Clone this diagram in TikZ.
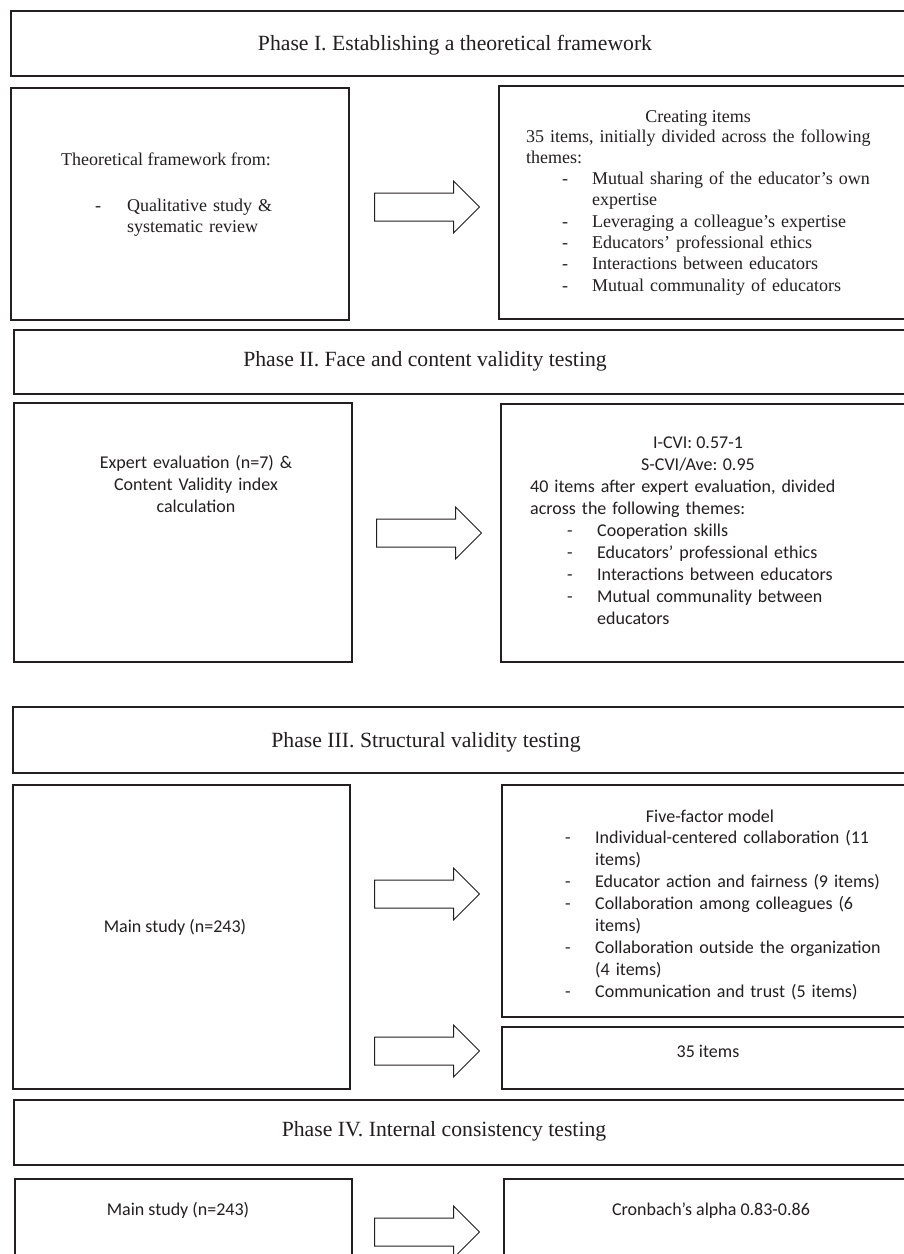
\documentclass[tikz,border=0pt]{standalone}
\usepackage{fontspec}
\setmainfont{Liberation Serif}
\newfontfamily\calibrifont{Carlito}
\usepackage{tikz}
\usetikzlibrary{shapes.arrows, positioning}
\definecolor{cLine}{RGB}{35,31,32}
\newcommand{\dashit}[1]{\makebox[30pt][l]{-}#1}
\tikzset{
	phase/.style   ={rectangle, draw=cLine, line width=1.8pt, anchor=north west, inner sep=0pt, minimum width=990},
	blk/.style     ={rectangle, draw=cLine, line width=1.6pt, anchor=north west, inner sep=0pt},
	rblk/.style    ={blk, minimum width=500},
	fatarrow/.style={single arrow, draw=cLine, line width=1pt, single arrow head extend=12pt, minimum height=105pt, minimum width=51pt, inner xsep=0pt, inner ysep=13.5pt, anchor=tail},
	ttl/.style     ={font=\fontsize{21.7}{26}\selectfont, anchor=base, inner sep=0pt, text=cLine},
	serif/.style   ={font=\fontsize{18}{21.3}\selectfont, inner sep=0pt, text=cLine},
	sans/.style    ={font=\calibrifont\fontsize{18}{22.1}\selectfont, inner sep=0pt, text=cLine},
}
\begin{document}
\begin{tikzpicture}[x=1pt, y=-1pt]
	\path[fill=white, use as bounding box] (0,0) rectangle (903,1254);
	% phase I
	\node[phase, minimum height=65] (ph1) at (10,10) {};
	\node[ttl] (t1) at (455,50) {Phase I. Establishing a theoretical framework};
	\node[blk, minimum width=338, minimum height=232] (fw) at (10,87) {};
	\node[rblk, minimum height=233] (items) at (498,85) {};
	\node[fatarrow] (a1) at (374,207) {};
	\node[serif, anchor=base] (fwh) at (166,165) {Theoretical framework from:};
	\node[serif, anchor=base west, text width=240, align=left] (fwl) at (95,211)
		{\makebox[32pt][l]{-}Qualitative study \&\\\hspace*{32pt}systematic review};
	\node[serif, anchor=base] (ci) at (698,122) {Creating items};
	\node[serif, anchor=base west, text width=390, align=left] (cil) at (526,142)
		{35 items, initially divided across the following\\themes:\\
		\hspace*{36pt}\dashit{Mutual sharing of the educator’s own}\\
		\hspace*{66pt}expertise\\
		\hspace*{36pt}\dashit{Leveraging a colleague’s expertise}\\
		\hspace*{36pt}\dashit{Educators’ professional ethics}\\
		\hspace*{36pt}\dashit{Interactions between educators}\\
		\hspace*{36pt}\dashit{Mutual communality of educators}};
	% phase II
	\node[phase, minimum height=64] (ph2) at (13,329) {};
	\node[ttl] (t2) at (425,366) {Phase II. Face and content validity testing};
	\node[blk, minimum width=338, minimum height=259] (expert) at (13,402) {};
	\node[rblk, minimum height=258] (cvi) at (500,403) {};
	\node[fatarrow] (a2) at (376,533) {};
	\node[sans, anchor=base, text width=300, align=center] (exl) at (196,468)
		{Expert evaluation (n=7) \&\\Content Validity index\\calculation};
	\node[sans, anchor=base] (cv1) at (698,448) {I-CVI: 0.57-1};
	\node[sans, anchor=base] (cv2) at (698,470) {S-CVI/Ave: 0.95};
	\node[sans, anchor=base west, text width=380, align=left] (cvl) at (530,492)
		{40 items after expert evaluation, divided\\across the following themes:\\
		\hspace*{37pt}\dashit{Cooperation skills}\\
		\hspace*{37pt}\dashit{Educators’ professional ethics}\\
		\hspace*{37pt}\dashit{Interactions between educators}\\
		\hspace*{37pt}\dashit{Mutual communality between}\\
		\hspace*{67pt}educators};
	% phase III
	\node[phase, minimum height=66] (ph3) at (12,706) {};
	\node[ttl] (t3) at (426,747) {Phase III. Structural validity testing};
	\node[blk, minimum width=337, minimum height=304] (main3) at (12,784) {};
	\node[rblk, minimum height=232] (model) at (501,784) {};
	\node[rblk, minimum height=62] (final) at (501,1026) {};
	\node[fatarrow] (a3) at (374,894) {};
	\node[fatarrow] (a4) at (374,1051) {};
	\node[sans, anchor=base] (m3) at (175,932) {Main study (n=243)};
	\node[sans, anchor=base] (ff) at (710,822) {Five-factor model};
	\node[sans, anchor=base west, text width=335, align=left] (ffl) at (565,843)
		{\dashit{Individual-centered collaboration (11}\\
		\hspace*{30pt}items)\\
		\dashit{Educator action and fairness (9 items)}\\
		\dashit{Collaboration among colleagues (6}\\
		\hspace*{30pt}items)\\
		\dashit{Collaboration outside the organization}\\
		\hspace*{30pt}(4 items)\\
		\dashit{Communication and trust (5 items)}};
	\node[sans, anchor=base] (n35) at (708,1057) {35 items};
	% phase IV
	\node[phase, minimum height=65] (ph4) at (13,1099) {};
	\node[ttl] (t4) at (444,1136) {Phase IV. Internal consistency testing};
	\node[blk, minimum width=337, minimum height=120] (main4) at (14,1178) {};
	\node[rblk, minimum height=120] (alpha) at (503,1178) {};
	\node[fatarrow] (a5) at (374,1232) {};
	\node[sans, anchor=base] (m4) at (178,1215) {Main study (n=243)};
	\node[sans, anchor=base] (ca) at (711,1215) {Cronbach’s alpha 0.83-0.86};
\end{tikzpicture}
\end{document}
